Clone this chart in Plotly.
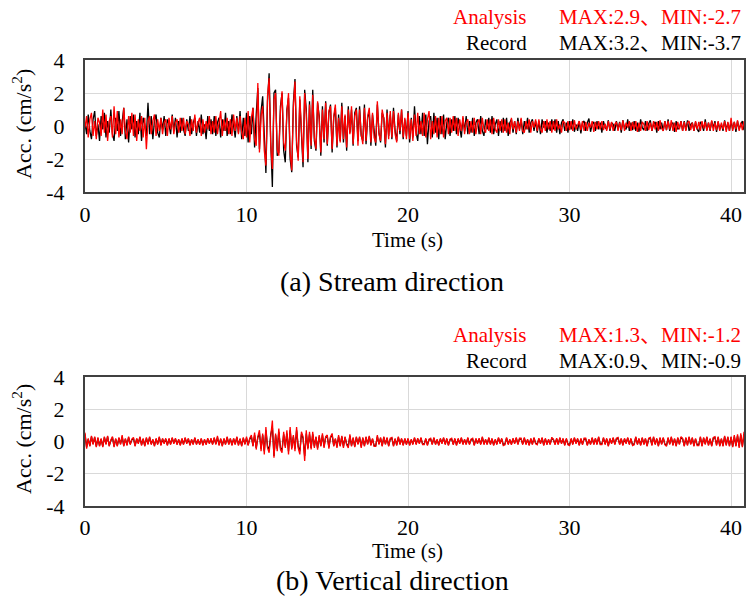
import plotly.graph_objects as go

# ---------------- data (one value every 0.1 s; one row = 1 s) ----------------
DT = 0.1

record_stream = [
    0.2, -0.5, 0.7, -0.3, -0.8, 0.4, 0.9, -0.6, 0.1, -0.9,
    0.6, -0.2, 0.8, -0.7, 0.3, -0.4, 1.0, -0.5, -0.9, 0.5,
    -0.3, 0.9, -0.6, 0.2, 1.1, -0.8, 0.4, -1.0, 0.6, -0.2,
    0.7, -0.7, 0.3, -0.5, 0.8, -0.9, 0.5, 0.1, -0.6, 1.4,
    -0.5, 0.6, -0.8, 0.3, 0.7, -0.4, -0.7, 0.5, -0.2, 0.6,
    -0.6, 0.4, 0.1, -0.5, 0.7, -0.3, 0.5, -0.7, 0.3, -0.4,
    0.5, -0.2, -0.6, 0.4, -0.3, 0.6, -0.5, 0.2, 0.5, -0.6,
    0.3, -0.4, 0.7, -0.5, 0.1, -0.8, 0.6, -0.3, 0.4, -0.5,
    0.6, -0.6, 0.2, 0.5, -0.7, 0.4, -0.3, 0.8, -0.6, 0.3,
    -0.5, 0.7, -0.2, -0.7, 0.6, -0.4, 0.9, -0.8, 0.5, -0.6,
    0.8, -1.0, 0.6, -0.5, 1.1, -1.3, 0.7, 2.3, -1.4, 0.9,
    1.8, -1.2, -2.85, 1.5, 3.2, -1.0, -3.7, 2.0, 2.2, -1.8,
    -1.6, 1.2, 2.0, -1.5, -2.2, 1.0, 1.7, -2.0, -2.8, 1.4,
    2.85, -1.2, -1.9, 1.6, -0.8, -2.5, 2.2, 1.0, -2.2, 1.5,
    -1.4, 2.2, -0.9, -1.5, 1.4, 0.6, -1.8, 1.2, -1.0, 1.5,
    -1.2, 0.8, 1.3, -1.6, 0.5, 1.1, -1.3, 0.7, -0.9, 1.4,
    -1.0, 0.6, -1.5, 1.2, -0.4, 1.0, -1.2, 0.8, 1.1, -0.9,
    1.2, -0.6, -0.9, 1.3, -1.1, 0.5, 0.9, -1.2, 0.7, -0.5,
    -1.2, 1.3, -0.4, -1.0, 0.8, 0.5, -1.3, 1.0, -0.6, 0.7,
    -0.8, 1.1, -0.3, -0.9, 0.7, -0.5, 1.0, -0.8, 0.4, -0.6,
    0.9, -1.0, 0.5, -0.7, 1.2, -0.4, -0.9, 0.6, -0.5, 0.8,
    -0.6, 0.7, -1.1, 0.3, 0.6, -0.7, 0.8, -0.4, 0.5, -0.8,
    0.6, -0.5, 0.7, -0.8, 0.2, 0.5, -0.6, 0.4, -0.3, 0.6,
    -0.5, 0.5, -0.2, -0.7, 0.5, -0.3, 0.6, -0.5, 0.3, -0.4,
    0.5, -0.6, 0.2, 0.4, -0.5, 0.6, -0.3, -0.6, 0.4, -0.2,
    0.5, -0.4, 0.6, -0.5, 0.1, 0.4, -0.6, 0.3, -0.4, 0.5,
    -0.3, 0.5, -0.6, 0.2, 0.4, -0.4, 0.3, -0.5, 0.5, -0.2,
    0.4, -0.5, 0.3, -0.2, 0.5, -0.4, 0.2, 0.4, -0.3, 0.3,
    -0.4, 0.3, -0.5, 0.4, -0.1, 0.3, -0.4, 0.2, -0.3, 0.4,
    -0.2, 0.4, -0.4, 0.3, -0.5, 0.2, 0.4, -0.3, 0.2, -0.4,
    0.3, -0.2, 0.4, -0.35, 0.1, -0.3, 0.3, -0.45, 0.2, 0.3,
    -0.3, 0.2, 0.45, -0.35, 0.1, 0.25, -0.3, 0.3, -0.2, 0.2,
    -0.4, 0.3, -0.1, -0.2, 0.35, -0.3, 0.2, 0.1, -0.3, 0.3,
    -0.2, 0.25, -0.4, 0.35, -0.1, -0.2, 0.4, -0.3, 0.2, -0.25,
    0.3, -0.3, 0.2, -0.35, 0.4, -0.1, -0.25, 0.3, -0.3, 0.15,
    0.35, -0.3, 0.1, 0.25, -0.4, 0.3, -0.2, 0.2, -0.3, 0.3,
    -0.25, 0.4, -0.3, 0.1, 0.2, -0.35, 0.3, -0.2, -0.1, 0.3,
    -0.3, 0.3, -0.25, 0.35, -0.3, 0.1, 0.2, -0.3, 0.25, -0.2,
    -0.35, 0.25, 0.1, -0.3, 0.4, -0.25, 0.2, -0.3, 0.3, -0.1,
    0.3, -0.35, 0.25, -0.2, 0.1, -0.3, 0.35, -0.25, 0.2, -0.3,
    0.3, -0.2, 0.25, -0.35, 0.3, -0.2, 0.1, 0.3, -0.25, 0.2,
]

analysis_stream = [
    -0.1, 0.6, -0.7, 0.4, 0.8, -0.6, 0.3, -0.8, 0.5, 0.2,
    -0.6, 1.0, -0.4, 0.7, -0.9, 0.3, 0.6, -0.7, 1.2, -0.5,
    0.9, -0.7, 0.4, -0.5, 1.1, -0.3, -0.8, 0.6, -0.4, 0.8,
    -0.6, 0.7, -0.9, 0.4, -0.3, 0.6, -0.7, 0.5, -1.4, 0.3,
    0.6, -0.5, 0.3, 0.7, -0.6, 0.4, -0.3, 0.5, -0.5, 0.2,
    0.4, -0.6, 0.5, -0.2, 0.6, -0.5, 0.2, 0.4, -0.4, 0.5,
    -0.3, 0.5, -0.5, 0.3, 0.1, -0.6, 0.4, -0.3, 0.7, -0.4,
    0.2, 0.5, -0.6, 0.4, -0.4, 0.3, -0.2, 0.6, -0.5, 0.3,
    -0.4, 0.6, -0.5, 0.2, 0.9, -0.6, 0.4, -0.3, 0.5, -0.5,
    0.4, -0.6, 0.7, -0.3, 0.5, -0.5, 0.6, -0.4, -0.8, 0.5,
    -0.7, 0.9, -1.0, 0.5, 1.1, -0.8, -1.2, 2.6, -1.6, 0.6,
    1.2, -1.5, -2.4, 1.8, 2.9, -1.2, -2.6, 1.6, 2.0, -1.4,
    -1.8, 0.9, 2.1, -1.0, -1.5, 0.8, 2.0, -1.6, -2.7, 1.1,
    2.7, -0.9, -2.1, 1.8, -0.6, -2.2, 2.0, 0.7, -2.0, 1.3,
    -1.2, 1.9, -0.7, -1.4, 1.5, 0.4, -1.6, 1.0, -0.8, 1.4,
    -1.1, 0.9, 1.2, -1.4, 0.6, 1.3, -1.2, 0.5, -1.0, 1.2,
    -0.8, 0.7, -1.3, 1.0, -0.5, 1.2, -1.1, 0.6, 1.0, -1.2,
    1.0, -0.5, -1.1, 1.1, -0.9, 0.6, 1.1, -1.0, 0.8, -0.7,
    -1.0, 1.5, -0.5, -0.9, 1.0, 0.4, -1.1, 0.8, -0.8, 0.9,
    -0.7, 0.9, -0.5, -1.0, 0.8, -0.3, 1.0, -0.7, 0.5, -0.8,
    0.8, -0.8, 0.4, -0.9, 0.7, -0.6, 0.8, -0.5, 0.3, -0.6,
    0.8, -0.7, 0.4, 0.9, -0.8, 0.3, -0.5, 0.6, -0.7, 0.5,
    -0.5, 0.6, -0.7, 0.3, 0.5, -0.5, 0.5, -0.4, 0.6, -0.3,
    0.5, -0.6, 0.4, -0.3, 0.6, -0.5, 0.2, 0.4, -0.5, 0.3,
    -0.4, 0.5, -0.5, 0.2, 0.4, -0.5, 0.5, -0.2, -0.4, 0.4,
    -0.3, 0.4, -0.5, 0.5, -0.2, -0.4, 0.4, -0.3, 0.4, -0.4,
    0.4, -0.4, 0.2, -0.5, 0.5, -0.2, 0.3, -0.4, 0.3, -0.3,
    0.5, -0.3, -0.4, 0.3, -0.2, 0.4, -0.4, 0.3, -0.1, 0.4,
    -0.3, 0.4, -0.2, -0.4, 0.3, -0.3, 0.4, -0.2, 0.3, -0.4,
    0.3, -0.3, 0.4, -0.2, 0.1, -0.4, 0.3, 0.2, -0.3, 0.3,
    -0.25, 0.3, -0.3, 0.35, -0.2, 0.1, 0.3, -0.25, 0.3, -0.3,
    0.25, -0.3, 0.2, -0.1, 0.3, -0.35, 0.25, -0.2, 0.3, -0.2,
    0.3, -0.25, 0.15, -0.3, 0.3, -0.2, 0.25, -0.3, 0.1, 0.25,
    -0.3, 0.2, -0.25, 0.35, -0.3, 0.2, -0.1, 0.3, -0.3, 0.25,
    -0.2, 0.3, -0.35, 0.2, -0.3, 0.25, 0.1, -0.3, 0.3, -0.25,
    0.2, -0.3, 0.3, -0.2, 0.25, -0.3, 0.35, -0.15, -0.3, 0.3,
    -0.25, 0.3, -0.2, 0.35, -0.3, 0.2, -0.35, 0.25, -0.2, 0.3,
    -0.3, 0.25, -0.3, 0.2, 0.3, -0.25, 0.2, -0.3, 0.3, -0.2,
    0.25, -0.3, 0.3, -0.15, 0.25, -0.3, 0.2, -0.25, 0.35, -0.3,
    0.2, -0.25, 0.3, -0.3, 0.2, -0.2, 0.3, -0.35, 0.25, -0.3,
    0.5, -0.3, 0.25, -0.2, 0.35, -0.3, 0.2, -0.25, 0.3, -0.2,
]

record_vertical = [
    0.45, -0.35, 0.15, -0.25, 0.3, -0.15, 0.25, -0.3, 0.2, -0.25,
    0.15, -0.3, 0.25, -0.15, 0.3, -0.25, 0.05, 0.25, -0.3, 0.15,
    -0.25, 0.2, -0.15, 0.3, -0.25, 0.15, -0.2, 0.25, -0.15, 0.1,
    0.2, -0.25, 0.15, -0.1, 0.25, -0.2, 0.15, -0.25, 0.2, -0.15,
    0.25, -0.15, 0.1, -0.25, 0.15, -0.15, 0.25, -0.2, 0.15, -0.1,
    0.15, -0.2, 0.15, -0.15, 0.2, -0.1, 0.15, -0.15, 0.1, -0.2,
    0.15, -0.15, 0.2, -0.1, 0.15, -0.2, 0.1, -0.15, 0.2, -0.15,
    0.1, -0.15, 0.15, -0.2, 0.1, -0.15, 0.15, -0.1, 0.15, -0.15,
    0.2, -0.15, 0.25, -0.2, 0.15, -0.25, 0.15, -0.15, 0.25, -0.15,
    0.15, -0.2, 0.15, -0.15, 0.25, -0.2, 0.15, -0.25, 0.2, -0.15,
    0.2, -0.2, 0.15, 0.3, -0.25, 0.4, -0.4, 0.25, 0.5, -0.45,
    0.4, -0.6, 0.7, -0.3, -0.5, 0.45, 0.9, -0.9, 0.4, -0.45,
    0.6, -0.4, -0.5, 0.45, -0.3, 0.5, -0.6, 0.7, -0.4, 0.3,
    -0.45, 0.7, -0.3, -0.6, 0.45, 0.2, -0.9, 0.5, -0.4, 0.45,
    -0.4, 0.45, -0.3, 0.25, -0.4, 0.3, -0.25, 0.4, -0.3, 0.25,
    0.3, -0.35, 0.25, 0.4, -0.25, 0.15, -0.3, 0.3, -0.25, 0.3,
    -0.3, 0.25, -0.15, -0.3, 0.35, -0.25, 0.2, -0.3, 0.25, -0.15,
    0.25, -0.3, 0.2, -0.25, 0.25, -0.15, 0.3, -0.2, 0.15, -0.25,
    -0.25, 0.3, -0.15, 0.2, -0.25, 0.25, -0.15, 0.2, -0.25, 0.15,
    0.2, -0.25, 0.15, -0.2, 0.25, -0.15, 0.15, -0.2, 0.15, -0.15,
    0.15, -0.2, 0.1, -0.15, 0.2, -0.15, 0.15, -0.1, 0.2, -0.15,
    -0.15, 0.15, -0.2, 0.1, 0.15, -0.15, 0.2, -0.15, 0.1, -0.2,
    0.15, -0.1, 0.2, -0.15, 0.15, -0.2, 0.1, 0.15, -0.15, 0.15,
    -0.2, 0.15, -0.1, 0.2, -0.15, 0.1, -0.15, 0.2, -0.15, 0.1,
    0.15, -0.2, 0.15, -0.1, 0.15, -0.15, 0.25, -0.15, 0.1, -0.15,
    0.2, -0.15, 0.15, -0.2, 0.1, -0.15, 0.2, -0.1, 0.15, -0.2,
    -0.15, 0.2, -0.15, 0.1, -0.15, 0.15, -0.1, 0.2, -0.15, 0.15,
    0.15, -0.15, 0.2, -0.15, 0.1, -0.2, 0.15, -0.15, 0.2, -0.1,
    -0.15, 0.15, -0.1, 0.2, -0.2, 0.15, -0.15, 0.1, -0.15, 0.2,
    0.1, -0.15, 0.15, -0.15, 0.2, -0.1, 0.15, -0.2, 0.15, -0.15,
    -0.2, 0.15, -0.15, 0.2, -0.1, 0.15, -0.2, 0.15, -0.15, 0.15,
    0.15, -0.2, 0.1, -0.15, 0.2, -0.15, 0.15, -0.15, 0.25, -0.15,
    -0.15, 0.2, -0.15, 0.15, -0.25, 0.15, -0.1, 0.2, -0.15, 0.15,
    0.2, -0.15, 0.15, -0.2, 0.15, -0.1, 0.2, -0.15, 0.15, -0.2,
    -0.15, 0.25, -0.15, 0.15, -0.2, 0.2, -0.15, 0.15, -0.25, 0.15,
    0.2, -0.2, 0.25, -0.15, 0.15, -0.25, 0.2, -0.15, 0.2, -0.15,
    -0.25, 0.2, -0.15, 0.25, -0.2, 0.15, -0.25, 0.2, -0.15, 0.25,
    0.15, -0.25, 0.2, -0.2, 0.25, -0.15, 0.2, -0.25, 0.15, -0.2,
    -0.2, 0.25, -0.25, 0.2, -0.15, 0.25, -0.2, 0.15, -0.25, 0.2,
    0.25, -0.2, 0.25, -0.25, 0.15, -0.25, 0.3, -0.2, 0.25, -0.25,
    0.25, -0.3, 0.3, -0.25, 0.35, -0.3, 0.4, -0.3, 0.45, -0.35,
]

analysis_vertical = [
    0.55, -0.45, 0.2, -0.3, 0.35, -0.2, 0.3, -0.35, 0.25, -0.3,
    0.2, -0.35, 0.3, -0.2, 0.35, -0.3, 0.1, 0.3, -0.35, 0.2,
    -0.3, 0.25, -0.2, 0.4, -0.3, 0.2, -0.25, 0.3, -0.2, 0.15,
    0.25, -0.3, 0.2, -0.15, 0.3, -0.25, 0.2, -0.3, 0.25, -0.2,
    0.3, -0.2, 0.15, -0.3, 0.2, -0.2, 0.3, -0.25, 0.2, -0.15,
    0.2, -0.25, 0.2, -0.2, 0.25, -0.15, 0.2, -0.2, 0.15, -0.25,
    0.2, -0.2, 0.25, -0.15, 0.2, -0.25, 0.15, -0.2, 0.25, -0.2,
    0.15, -0.2, 0.2, -0.25, 0.15, -0.2, 0.2, -0.15, 0.2, -0.2,
    0.25, -0.2, 0.35, -0.25, 0.2, -0.3, 0.2, -0.2, 0.3, -0.2,
    0.2, -0.25, 0.2, -0.2, 0.3, -0.25, 0.2, -0.3, 0.25, -0.2,
    0.3, -0.25, 0.2, 0.4, -0.3, 0.55, -0.5, 0.3, 0.7, -0.6,
    0.5, -0.8, 0.9, -0.4, -0.7, 0.6, 1.3, -1.0, 0.5, -0.6,
    0.8, -0.5, -0.7, 0.6, -0.4, 0.7, -0.8, 0.9, -0.5, 0.4,
    -0.6, 0.9, -0.4, -0.8, 0.6, 0.3, -1.2, 0.7, -0.5, 0.6,
    -0.5, 0.6, -0.4, 0.3, -0.5, 0.4, -0.3, 0.5, -0.4, 0.3,
    0.4, -0.45, 0.3, 0.5, -0.3, 0.2, -0.4, 0.4, -0.3, 0.35,
    -0.4, 0.3, -0.2, -0.4, 0.45, -0.3, 0.25, -0.35, 0.3, -0.2,
    0.3, -0.4, 0.25, -0.3, 0.3, -0.2, 0.35, -0.25, 0.2, -0.3,
    -0.3, 0.4, -0.2, 0.25, -0.3, 0.3, -0.2, 0.25, -0.3, 0.2,
    0.25, -0.3, 0.2, -0.25, 0.3, -0.2, 0.2, -0.25, 0.2, -0.2,
    0.2, -0.25, 0.15, -0.2, 0.25, -0.2, 0.2, -0.15, 0.25, -0.2,
    -0.2, 0.2, -0.25, 0.15, 0.2, -0.2, 0.25, -0.2, 0.15, -0.25,
    0.2, -0.15, 0.25, -0.2, 0.2, -0.25, 0.15, 0.2, -0.2, 0.2,
    -0.25, 0.2, -0.15, 0.25, -0.2, 0.15, -0.2, 0.25, -0.2, 0.15,
    0.2, -0.25, 0.2, -0.15, 0.2, -0.2, 0.3, -0.2, 0.15, -0.2,
    0.25, -0.2, 0.2, -0.25, 0.15, -0.2, 0.25, -0.15, 0.2, -0.25,
    -0.2, 0.25, -0.2, 0.15, -0.2, 0.2, -0.15, 0.25, -0.2, 0.2,
    0.2, -0.2, 0.25, -0.2, 0.15, -0.25, 0.2, -0.2, 0.25, -0.15,
    -0.2, 0.2, -0.15, 0.25, -0.25, 0.2, -0.2, 0.15, -0.2, 0.25,
    0.15, -0.2, 0.2, -0.2, 0.25, -0.15, 0.2, -0.25, 0.2, -0.2,
    -0.25, 0.2, -0.2, 0.25, -0.15, 0.2, -0.25, 0.2, -0.2, 0.2,
    0.2, -0.25, 0.15, -0.2, 0.25, -0.2, 0.2, -0.2, 0.3, -0.2,
    -0.2, 0.25, -0.2, 0.2, -0.3, 0.2, -0.15, 0.25, -0.2, 0.2,
    0.25, -0.2, 0.2, -0.25, 0.2, -0.15, 0.25, -0.2, 0.2, -0.25,
    -0.2, 0.3, -0.2, 0.2, -0.25, 0.25, -0.2, 0.2, -0.3, 0.2,
    0.25, -0.25, 0.3, -0.2, 0.2, -0.3, 0.25, -0.2, 0.25, -0.2,
    -0.3, 0.25, -0.2, 0.3, -0.25, 0.2, -0.3, 0.25, -0.2, 0.3,
    0.2, -0.3, 0.25, -0.25, 0.3, -0.2, 0.25, -0.3, 0.2, -0.25,
    -0.25, 0.3, -0.3, 0.25, -0.2, 0.3, -0.25, 0.2, -0.3, 0.25,
    0.3, -0.25, 0.3, -0.3, 0.2, -0.3, 0.35, -0.25, 0.3, -0.3,
    0.3, -0.35, 0.4, -0.3, 0.45, -0.4, 0.5, -0.35, 0.6, -0.4,
]

x_ticks = [0, 10, 20, 30, 40]
y_ticks = [-4, -2, 0, 2, 4]
y_ticktext = ["-4", "-2", "0", "2", "4"]

stream_labels = ("Analysis", "MAX:2.9、MIN:-2.7", "Record", "MAX:3.2、MIN:-3.7")
vertical_labels = ("Analysis", "MAX:1.3、MIN:-1.2", "Record", "MAX:0.9、MIN:-0.9")

# ---------------- figure ----------------
W, H = 746, 599
FONT = "Liberation Serif, 'Noto Sans CJK JP', serif"
RED = "#ff0000"
BLACK = "#000000"


def t_of(vals):
    return [round(i * DT, 2) for i in range(len(vals))]


fig = go.Figure()
fig.add_trace(go.Scatter(x=t_of(record_stream), y=record_stream, mode="lines",
                         line=dict(color=BLACK, width=1.3), xaxis="x", yaxis="y"))
fig.add_trace(go.Scatter(x=t_of(analysis_stream), y=analysis_stream, mode="lines",
                         line=dict(color=RED, width=1.3), xaxis="x", yaxis="y"))
fig.add_trace(go.Scatter(x=t_of(record_vertical), y=record_vertical, mode="lines",
                         line=dict(color=BLACK, width=1.3), xaxis="x2", yaxis="y2"))
fig.add_trace(go.Scatter(x=t_of(analysis_vertical), y=analysis_vertical, mode="lines",
                         line=dict(color=RED, width=1.3), xaxis="x2", yaxis="y2"))


def px_x(p):
    return p / W


def px_y(p):
    return 1 - p / H


axis_common = dict(showgrid=True, gridcolor="#d9d9d9", gridwidth=1,
                   showline=True, mirror=True, linecolor="#404040", linewidth=2,
                   zeroline=False, ticks="", automargin=False,
                   tickfont=dict(family=FONT, size=22, color=BLACK))

xdom = [px_x(85), px_x(744)]
fig.update_layout(
    template="none",
    width=W, height=H,
    margin=dict(l=0, r=0, t=0, b=0, pad=0, autoexpand=False),
    paper_bgcolor="white", plot_bgcolor="white",
    showlegend=False,
    xaxis=dict(domain=xdom, anchor="y", range=[0, 40.8], tickvals=x_ticks,
               ticklabelstandoff=2, **axis_common),
    yaxis=dict(domain=[px_y(192), px_y(60)], anchor="x", range=[-4, 4],
               tickvals=y_ticks, ticktext=y_ticktext, ticklabelstandoff=14, **axis_common),
    xaxis2=dict(domain=xdom, anchor="y2", range=[0, 40.8], tickvals=x_ticks,
                ticklabelstandoff=1, **axis_common),
    yaxis2=dict(domain=[px_y(506), px_y(377)], anchor="x2", range=[-4, 4],
                tickvals=y_ticks, ticktext=y_ticktext, ticklabelstandoff=14, **axis_common),
)

ann = []


def add_text(text, x, y, size, color=BLACK, xanchor="center", angle=0):
    ann.append(dict(text=text, x=px_x(x), y=px_y(y), xref="paper", yref="paper",
                    xanchor=xanchor, yanchor="middle", showarrow=False, textangle=angle,
                    font=dict(family=FONT, size=size, color=color)))


# legends (top-right text blocks)
for labels, ya, yr in ((stream_labels, 17, 43), (vertical_labels, 335, 361)):
    add_text(labels[0], 529, ya, 21, RED, "right")
    add_text(labels[1], 743, ya, 21, RED, "right")
    add_text(labels[2], 529, yr, 21, BLACK, "right")
    add_text(labels[3], 743, yr, 21, BLACK, "right")

# axis titles
add_text("Acc. (cm/s<sup>2</sup>)", 22, 124, 22, angle=-90)
add_text("Acc. (cm/s<sup>2</sup>)", 22, 439, 22, angle=-90)
add_text("Time (s)", 407, 240, 21)
add_text("Time (s)", 407, 551, 21)

# captions
add_text("(a) Stream direction", 392, 281, 28)
add_text("(b) Vertical direction", 392, 580, 28)

fig.update_layout(annotations=ann)
fig.write_html("out.html")
